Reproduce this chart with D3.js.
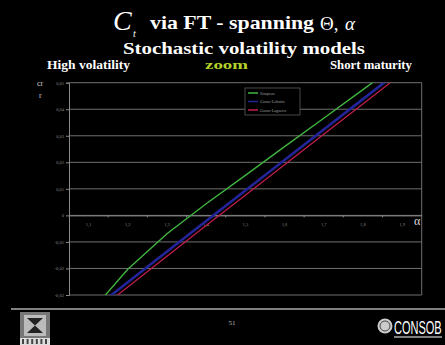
<!DOCTYPE html>
<html>
<head>
<meta charset="utf-8">
<script src="https://cdn.jsdelivr.net/npm/d3@7"></script>
<style>
  html, body { margin: 0; padding: 0; background: #000; }
  svg { display: block; }
</style>
</head>
<body>
<script>
// Pricing error of C_t via FT across the damping parameter alpha
const categories = ["1,1", "1,2", "1,3", "1,4", "1,5", "1,6", "1,7", "1,8", "1,9"];
const simpson       = [-0.0373, -0.0203, -0.0069, 0.0044, 0.0151, 0.0259, 0.0366, 0.0474, 0.0581];
const gaussLobatto  = [-0.0367, -0.0252, -0.0136, -0.0021, 0.0094, 0.0209, 0.0324, 0.0438, 0.0553];
const gaussLaguerre = [-0.0384, -0.0270, -0.0154, -0.0038, 0.0076, 0.0191, 0.0306, 0.0420, 0.0535];
const yTicks = [0.05, 0.04, 0.03, 0.02, 0.01, 0, -0.01, -0.02, -0.03];
const seriesNames = ["Simpson", "Gauss-Lobatto", "Gauss-Laguerre"];

const W = 445, H = 345;
const svg = d3.select("body").append("svg").attr("width", W).attr("height", H)
  .style("background", "#000");

const plot = { left: 69, right: 421.7, top: 82.7, bottom: 295 };

const x = d3.scaleBand().domain(categories).range([plot.left, plot.right]).padding(0);
const y = d3.scaleLinear().domain([-0.03, 0.05]).range([plot.bottom, plot.top]);
const fmt = v => v === 0 ? "0" : d3.format(".2f")(v).replace(".", ",").replace("−", "-");

// ---- titles ----
const serif = "'Liberation Serif', 'DejaVu Serif', serif";
function label(xp, yp, txt, opts) {
  const t = svg.append("text").attr("x", xp).attr("y", yp)
    .attr("font-family", serif).attr("fill", opts.fill || "#fff")
    .attr("font-size", opts.size);
  if (opts.bold) t.attr("font-weight", "bold");
  if (opts.italic) t.attr("font-style", "italic");
  if (opts.len) t.attr("textLength", opts.len).attr("lengthAdjust", "spacingAndGlyphs");
  t.text(txt);
  return t;
}
label(113, 30, "C", { size: 28, italic: true });
label(133, 36.5, "t", { size: 10, italic: true });
label(150, 29, "via FT - spanning", { size: 19, bold: true, len: 164 });
label(320, 30, "Θ,", { size: 19 });
label(345, 30, "α", { size: 19, italic: true });
label(123, 54, "Stochastic volatility models", { size: 17, bold: true, len: 242 });

label(47, 69, "High volatility", { size: 12, bold: true, len: 83 });
label(205, 69, "zoom", { size: 12, bold: true, len: 43, fill: "#b4d22a" });
label(330, 69, "Short maturity", { size: 12, bold: true, len: 82 });

label(37, 86, "cr", { size: 8, fill: "#ccc" });
label(39, 98, "r", { size: 8, fill: "#ccc" });

// ---- gridlines and frame ----
const g = svg.append("g");
g.selectAll("line.grid").data(yTicks).join("line")
  .attr("x1", plot.left).attr("x2", plot.right)
  .attr("y1", d => y(d)).attr("y2", d => y(d))
  .attr("stroke", "#6f6f6f").attr("stroke-width", 1);
g.append("line").attr("x1", plot.right).attr("x2", plot.right)
  .attr("y1", plot.top).attr("y2", plot.bottom).attr("stroke", "#6f6f6f");

// y axis
const yAxis = d3.axisLeft(y).tickValues(yTicks).tickSize(3).tickFormat(fmt);
const ya = svg.append("g").attr("transform", `translate(${plot.left},0)`).call(yAxis);
ya.select(".domain").attr("stroke", "#8a8a8a");
ya.selectAll(".tick line").attr("stroke", "#8a8a8a");
ya.selectAll(".tick text").attr("fill", "#8a8a8a").attr("font-size", 4.5)
  .attr("font-family", serif).attr("x", -5);

// x axis on the zero line, ticks between categories
const xa = svg.append("g").attr("transform", `translate(0,${y(0)})`)
  .call(d3.axisBottom(x).tickSize(0).tickPadding(7));
xa.select(".domain").attr("stroke", "#8a8a8a");
xa.selectAll(".tick text").attr("fill", "#8a8a8a").attr("font-size", 4.5)
  .attr("font-family", serif);
xa.selectAll("line.sep").data(categories.slice(1)).join("line")
  .attr("x1", d => x(d)).attr("x2", d => x(d)).attr("y1", 0).attr("y2", 2)
  .attr("stroke", "#8a8a8a");

label(414, 225, "α", { size: 12, fill: "#ddd" });

// ---- series ----
svg.append("clipPath").attr("id", "plotclip").append("rect")
  .attr("x", plot.left).attr("y", plot.top)
  .attr("width", plot.right - plot.left).attr("height", plot.bottom - plot.top);

const line = d3.line()
  .x((d, i) => x(categories[i]) + x.bandwidth() / 2)
  .y(d => y(d));

const series = [
  { name: seriesNames[1], values: gaussLobatto, color: "#23239a", width: 2.6 },
  { name: seriesNames[2], values: gaussLaguerre, color: "#c21e4e", width: 1.2 },
  { name: seriesNames[0], values: simpson, color: "#3fb43f", width: 1.4 }
];
const lines = svg.append("g").attr("clip-path", "url(#plotclip)");
lines.selectAll("path").data(series).join("path")
  .attr("d", d => line(d.values)).attr("fill", "none")
  .attr("stroke", d => d.color).attr("stroke-width", d => d.width);

// ---- legend ----
const legendItems = [series[2], series[0], series[1]];
const lg = svg.append("g").attr("transform", "translate(245,88)");
lg.append("rect").attr("width", 55).attr("height", 27).attr("fill", "#000")
  .attr("stroke", "#5a5a5a").attr("stroke-width", 0.8);
lg.selectAll("line").data(legendItems).join("line")
  .attr("x1", 3).attr("x2", 13).attr("y1", (d, i) => 5 + i * 8.5).attr("y2", (d, i) => 5 + i * 8.5)
  .attr("stroke", d => d.color).attr("stroke-width", 1.5);
lg.selectAll("text").data(legendItems).join("text")
  .attr("x", 15).attr("y", (d, i) => 6.5 + i * 8.5).attr("font-size", 4.2)
  .attr("font-family", serif).attr("fill", "#9a9a9a").text(d => d.name);

// ---- footer ----
svg.append("line").attr("x1", 11).attr("x2", 445).attr("y1", 309).attr("y2", 309)
  .attr("stroke", "#fff").attr("stroke-width", 1.2);
label(232, 325, "51", { size: 7, fill: "#bbb" }).attr("text-anchor", "middle");

// left emblem
const lo = svg.append("g").attr("transform", "translate(20,312)");
lo.append("rect").attr("width", 30).attr("height", 33).attr("fill", "#777");
lo.append("rect").attr("x", 4).attr("y", 3).attr("width", 22).attr("height", 21).attr("fill", "#bbb");
lo.append("path").attr("d", "M7,6 L23,6 L7,21 L23,21 Z").attr("fill", "#222");
lo.append("rect").attr("x", 0).attr("y", 26).attr("width", 30).attr("height", 7).attr("fill", "#ddd");
lo.selectAll("rect.slot").data(d3.range(6)).join("rect")
  .attr("x", d => 2 + d * 4.6).attr("y", 27).attr("width", 2).attr("height", 5).attr("fill", "#444");

// right logo
const co = svg.append("g");
co.append("circle").attr("cx", 385).attr("cy", 326).attr("r", 7.5).attr("fill", "#ccc");
co.append("circle").attr("cx", 385).attr("cy", 326).attr("r", 5).attr("fill", "none")
  .attr("stroke", "#444").attr("stroke-width", 1);
co.append("text").attr("transform", "translate(394,334) scale(0.58,1)")
  .attr("font-family", "'Liberation Sans', sans-serif")
  .attr("font-size", 19).attr("fill", "#fff").text("CONSOB");
co.append("line").attr("x1", 394).attr("x2", 442).attr("y1", 337).attr("y2", 337)
  .attr("stroke", "#fff").attr("stroke-width", 1);
</script>
</body>
</html>
